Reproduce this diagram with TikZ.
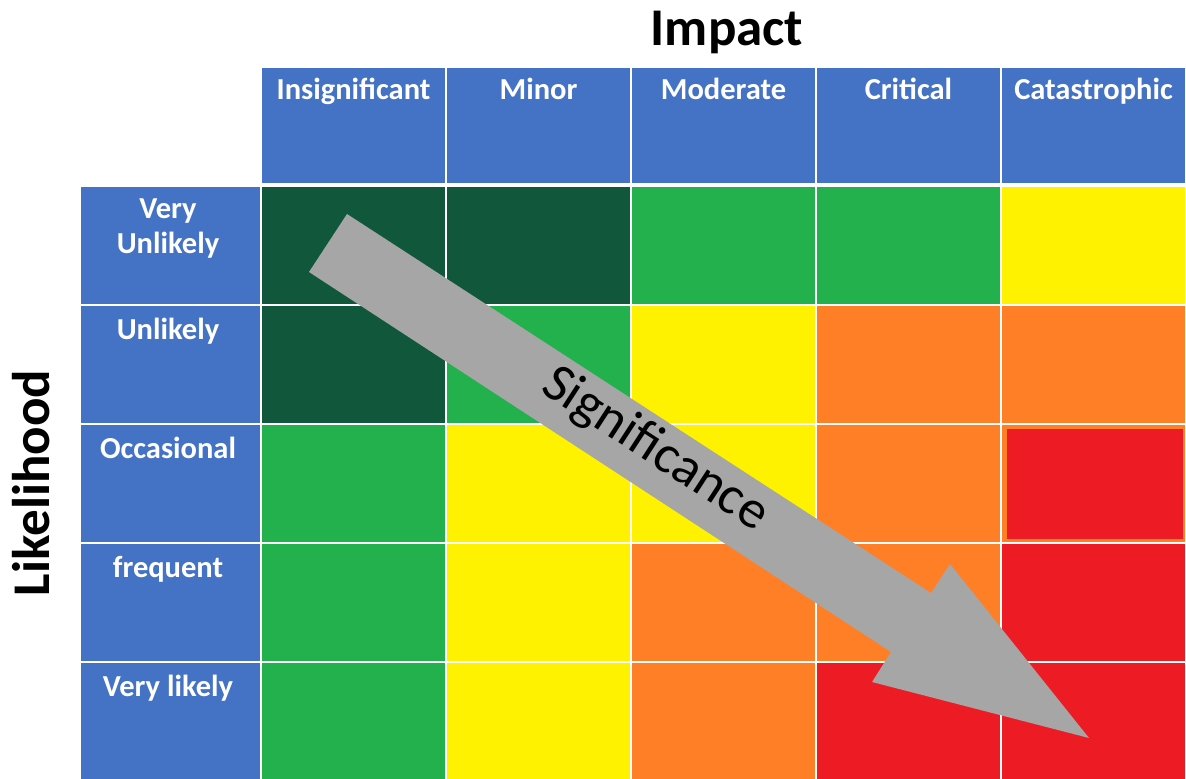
\documentclass[tikz,border=0pt]{standalone}
\usepackage{fontspec}
\setmainfont{Carlito}
\definecolor{hdrblue}{HTML}{4472C4}
\definecolor{dkgreen}{HTML}{11573B}
\definecolor{ltgreen}{HTML}{22B14C}
\definecolor{sigyellow}{HTML}{FFF200}
\definecolor{sigorange}{HTML}{FF7F27}
\definecolor{sigred}{HTML}{ED1C24}
\definecolor{arrowgray}{HTML}{A6A6A6}
\begin{document}
\begin{tikzpicture}[x=1pt,y=-1pt,
  cellbox/.style={draw=white, line width=2pt, minimum width=185pt, minimum height=119pt, inner sep=0pt, outer sep=0pt},
  hdrbox/.style={cellbox, fill=hdrblue, minimum height=117pt},
  rowbox/.style={cellbox, fill=hdrblue, minimum width=181pt},
  lbl/.style={text=white, font=\fontsize{30.5}{35}\selectfont\bfseries, inner sep=0pt, align=center},
  title/.style={text=black, font=\fontsize{53}{60}\selectfont\bfseries, inner sep=0pt}
]
\useasboundingbox (0,0) rectangle (1186,779);

% header cells
\node[hdrbox] (h1) at (353.5,125.5) {};
\node[hdrbox] (h2) at (538.5,125.5) {};
\node[hdrbox] (h3) at (723.5,125.5) {};
\node[hdrbox] (h4) at (908.5,125.5) {};
\node[hdrbox] (h5) at (1093.5,125.5) {};

% row label cells
\node[rowbox] (r1) at (170.5,245.5) {};
\node[rowbox] (r2) at (170.5,364.5) {};
\node[rowbox] (r3) at (170.5,483.5) {};
\node[rowbox] (r4) at (170.5,602.5) {};
\node[rowbox] (r5) at (170.5,721.5) {};

% matrix cells
\foreach \row/\yy/\ca/\cb/\cc/\cd/\ce in {
  1/245.5/dkgreen/dkgreen/ltgreen/ltgreen/sigyellow,
  2/364.5/dkgreen/ltgreen/sigyellow/sigorange/sigorange,
  3/483.5/ltgreen/sigyellow/sigyellow/sigorange/sigorange,
  4/602.5/ltgreen/sigyellow/sigorange/sigorange/sigred,
  5/721.5/ltgreen/sigyellow/sigorange/sigred/sigred}{
  \node[cellbox, fill=\ca] (c\row-1) at (353.5,\yy) {};
  \node[cellbox, fill=\cb] (c\row-2) at (538.5,\yy) {};
  \node[cellbox, fill=\cc] (c\row-3) at (723.5,\yy) {};
  \node[cellbox, fill=\cd] (c\row-4) at (908.5,\yy) {};
  \node[cellbox, fill=\ce] (c\row-5) at (1093.5,\yy) {};
}
\node[fill=sigred, minimum width=176pt, minimum height=110pt, inner sep=0pt] (c3-5in) at ([xshift=1.5pt,yshift=-0.5pt]c3-5.center) {};

% header texts
\node[lbl, anchor=base] (t1) at ([yshift=-32pt]h1.north) {Insignificant};
\node[lbl, anchor=base] (t2) at ([yshift=-32pt]h2.north) {Minor};
\node[lbl, anchor=base] (t3) at ([yshift=-32pt]h3.north) {Moderate};
\node[lbl, anchor=base] (t4) at ([yshift=-32pt]h4.north) {Critical};
\node[lbl, anchor=base] (t5) at ([yshift=-32pt]h5.north) {Catastrophic};

% row texts
\node[lbl, anchor=north] (s1) at ([xshift=-2.5pt,yshift=-12.5pt]r1.north) {Very\\Unlikely};
\node[lbl, anchor=base] (s2) at ([xshift=-2.5pt,yshift=-34pt]r2.north) {Unlikely};
\node[lbl, anchor=base] (s3) at ([xshift=-2.5pt,yshift=-34pt]r3.north) {Occasional};
\node[lbl, anchor=base] (s4) at ([xshift=-2.5pt,yshift=-34pt]r4.north) {frequent};
\node[lbl, anchor=base] (s5) at ([xshift=-2.5pt,yshift=-34pt]r5.north) {Very likely};

% titles
\node[title, anchor=base] (impact) at (727,45) {Impact};
\node[title, anchor=base, rotate=90] (likelihood) at (49,483) {Likelihood};

% significance arrow
\coordinate (a1) at (347,214);
\coordinate (a2) at (931,593);
\coordinate (a3) at (950,564);
\coordinate (a4) at (1089,738);
\coordinate (a5) at (872,682);
\coordinate (a6) at (891,652);
\coordinate (a7) at (309,272);
\fill[arrowgray] (a1) -- (a2) -- (a3) -- (a4) -- (a5) -- (a6) -- (a7) -- cycle;
\node[text=black, font=\fontsize{54}{60}\selectfont, inner sep=0pt, rotate=-33] (sig) at (655,450) {Significance};
\end{tikzpicture}
\end{document}
